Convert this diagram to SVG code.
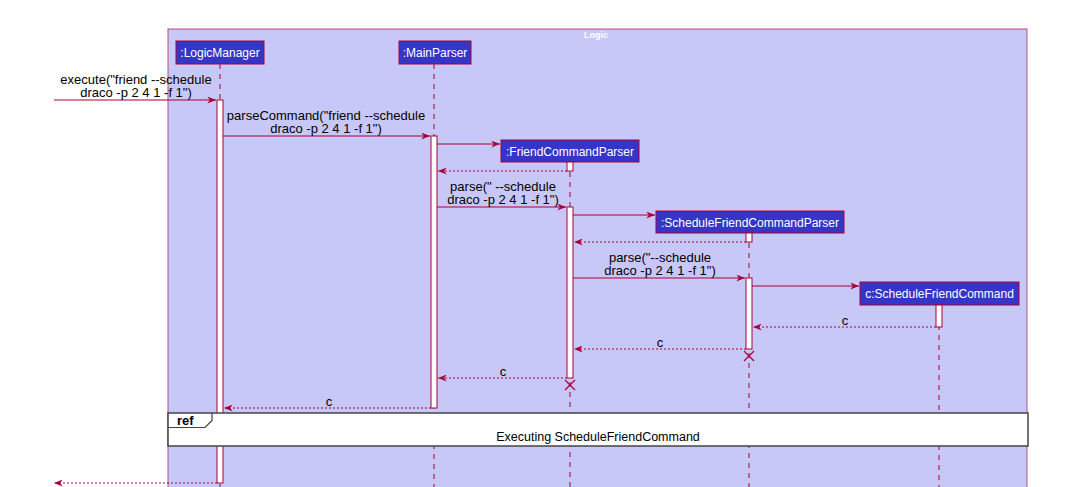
<svg xmlns="http://www.w3.org/2000/svg" width="1083" height="487" viewBox="0 0 1083 487">
<style>
.part{fill:#3535C8;stroke:#A80036;stroke-width:1}
.ptxt{font-family:"Liberation Sans",Arial,sans-serif;font-size:12px;fill:#FFFFFF;text-anchor:middle}
.life{stroke:#A80036;stroke-width:1;stroke-dasharray:5,5;fill:none}
.act{fill:#FFFFFF;stroke:#A80036;stroke-width:1}
.msg{stroke:#A80036;stroke-width:1;fill:none;marker-end:url(#ah)}
.ret{stroke:#A80036;stroke-width:1;stroke-dasharray:2,2;fill:none;marker-end:url(#ah)}
.mtxt{font-family:"Liberation Sans",Arial,sans-serif;font-size:13px;fill:#000000;text-anchor:middle}
.x{stroke:#A80036;stroke-width:1.2}
</style>
<defs>
<marker id="ah" viewBox="0 0 10 8" refX="10" refY="4" markerWidth="9" markerHeight="7" markerUnits="userSpaceOnUse" orient="auto">
<path d="M0,0 L10,4 L0,8 L3,4 Z" fill="#A80036"/>
</marker>
</defs>
<rect x="0" y="0" width="1083" height="487" fill="#FFFFFF"/>
<g id="frame">
<rect x="168" y="29" width="859" height="470" fill="#C8C8F8" stroke="#B0507A" stroke-width="1"/>
<text x="596" y="38" font-family="'Liberation Sans',Arial,sans-serif" font-size="9" font-weight="bold" fill="#FFFFFF" text-anchor="middle">Logic</text>
</g>
<g id="lifelines">
<line class="life" x1="220" y1="64" x2="220" y2="487"/>
<line class="life" x1="434" y1="64" x2="434" y2="487"/>
<line class="life" x1="570" y1="162" x2="570" y2="487"/>
<line class="life" x1="749" y1="233" x2="749" y2="487"/>
<line class="life" x1="939" y1="305" x2="939" y2="487"/>
</g>
<g id="LogicManager">
<rect class="part" x="176" y="41" width="88" height="23"/>
<text class="ptxt" x="220" y="57">:LogicManager</text>
</g>
<g id="MainParser">
<rect class="part" x="399" y="41" width="72" height="23"/>
<text class="ptxt" x="435" y="57">:MainParser</text>
</g>
<g id="FriendCommandParser">
<rect class="part" x="501" y="140" width="138" height="22"/>
<text class="ptxt" x="570" y="155.5">:FriendCommandParser</text>
</g>
<g id="ScheduleFriendCommandParser">
<rect class="part" x="656" y="211" width="188" height="22"/>
<text class="ptxt" x="750" y="226.5">:ScheduleFriendCommandParser</text>
</g>
<g id="ScheduleFriendCommand">
<rect class="part" x="860" y="282" width="159" height="23"/>
<text class="ptxt" x="939.5" y="298">c:ScheduleFriendCommand</text>
</g>
<g id="activations">
<rect class="act" x="217" y="100" width="6" height="383"/>
<rect class="act" x="431" y="136" width="6" height="272"/>
<rect class="act" x="567" y="162" width="6" height="9"/>
<rect class="act" x="567" y="207" width="6" height="171"/>
<rect class="act" x="746" y="233" width="6" height="9"/>
<rect class="act" x="746" y="278" width="6" height="71"/>
<rect class="act" x="936" y="305" width="6" height="22"/>
</g>
<g id="connectors">
<line class="msg" x1="54" y1="100" x2="216" y2="100"/>
<text class="mtxt" x="136" y="84">execute("friend --schedule</text>
<text class="mtxt" x="136" y="97">draco -p 2 4 1 -f 1")</text>
<line class="msg" x1="223" y1="136" x2="430" y2="136"/>
<text class="mtxt" x="326" y="120">parseCommand("friend --schedule</text>
<text class="mtxt" x="326" y="133">draco -p 2 4 1 -f 1")</text>
<line class="msg" x1="437" y1="144" x2="500" y2="144"/>
<line class="ret" x1="567" y1="171" x2="438" y2="171"/>
<line class="msg" x1="437" y1="207" x2="566" y2="207"/>
<text class="mtxt" x="503" y="191">parse(" --schedule</text>
<text class="mtxt" x="503" y="204">draco -p 2 4 1 -f 1")</text>
<line class="msg" x1="573" y1="215" x2="655" y2="215"/>
<line class="ret" x1="746" y1="242" x2="574" y2="242"/>
<line class="msg" x1="573" y1="278" x2="745" y2="278"/>
<text class="mtxt" x="660" y="262">parse("--schedule</text>
<text class="mtxt" x="660" y="275">draco -p 2 4 1 -f 1")</text>
<line class="msg" x1="752" y1="286" x2="859" y2="286"/>
<line class="ret" x1="936" y1="327" x2="753" y2="327"/>
<text class="mtxt" x="845" y="325">c</text>
<line class="ret" x1="746" y1="349" x2="574" y2="349"/>
<text class="mtxt" x="660" y="347">c</text>
<line class="ret" x1="567" y1="378" x2="438" y2="378"/>
<text class="mtxt" x="503" y="376">c</text>
<line class="ret" x1="431" y1="408" x2="224" y2="408"/>
<text class="mtxt" x="329" y="406">c</text>
<line class="ret" x1="217" y1="483" x2="54" y2="483"/>
<line class="x" x1="744" y1="351" x2="754" y2="361"/>
<line class="x" x1="754" y1="351" x2="744" y2="361"/>
<line class="x" x1="565" y1="380" x2="575" y2="390"/>
<line class="x" x1="575" y1="380" x2="565" y2="390"/>
</g>
<g id="ref">
<rect x="168" y="413" width="860" height="33" fill="#FFFFFF" stroke="#444444" stroke-width="1.5"/>
<path d="M168,427.5 L205,427.5 L212,420.5 L212,413" fill="none" stroke="#444444" stroke-width="1.2"/>
<text x="177" y="425" font-family="'Liberation Sans',Arial,sans-serif" font-size="13" font-weight="bold" fill="#000000">ref</text>
<text x="598" y="441" font-family="'Liberation Sans',Arial,sans-serif" font-size="12.5" fill="#000000" text-anchor="middle">Executing ScheduleFriendCommand</text>
</g>
</svg>
